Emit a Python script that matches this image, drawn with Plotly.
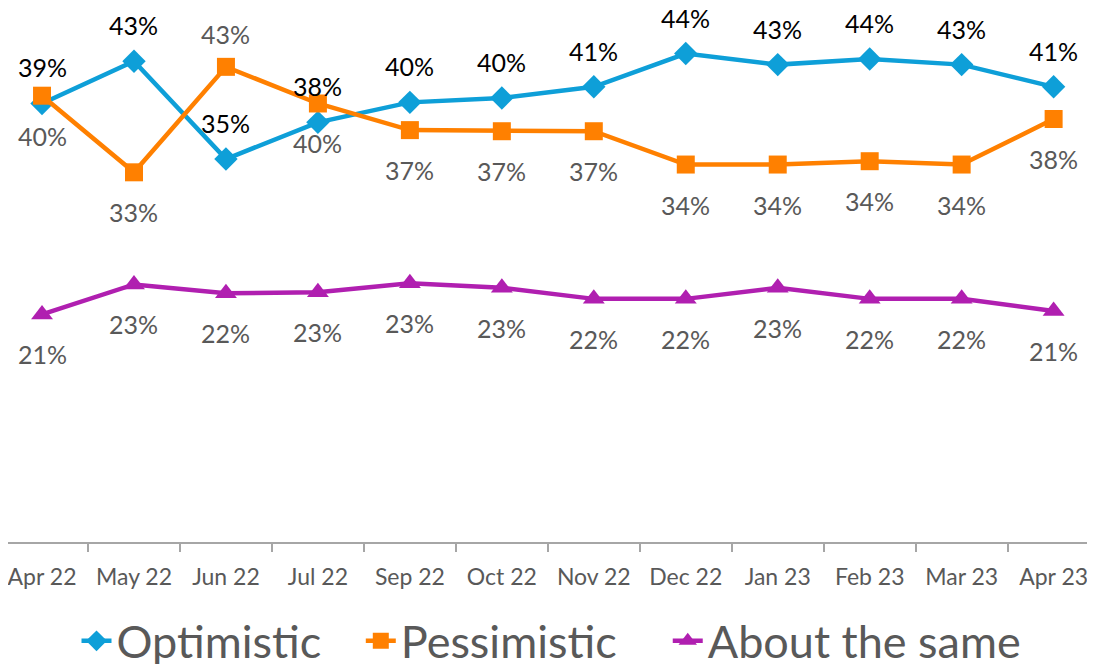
import plotly.graph_objects as go

months = ["Apr 22", "May 22", "Jun 22", "Jul 22", "Sep 22", "Oct 22", "Nov 22",
          "Dec 22", "Jan 23", "Feb 23", "Mar 23", "Apr 23"]
optimistic = [39.5, 43.3, 34.5, 37.8, 39.6, 40.0, 41.0, 44.0, 43.0, 43.5, 43.0, 41.0]
optimistic_labels = ["39%", "43%", "35%", "38%", "40%", "40%", "41%", "44%", "43%", "44%", "43%", "41%"]
pessimistic = [40.2, 33.3, 42.8, 39.5, 37.1, 37.0, 37.0, 34.0, 34.0, 34.3, 34.0, 38.1]
pessimistic_labels = ["40%", "33%", "43%", "40%", "37%", "37%", "37%", "34%", "34%", "34%", "34%", "38%"]
pessimistic_above = [False, False, True, False, False, False, False, False, False, False, False, False]
same = [20.5, 23.2, 22.4, 22.5, 23.3, 22.9, 21.9, 21.9, 22.9, 21.9, 21.9, 20.8]
same_labels = ["21%", "23%", "22%", "23%", "23%", "23%", "22%", "22%", "23%", "22%", "22%", "21%"]
series_names = ["Optimistic", "Pessimistic", "About the same"]

BLUE = "#0E9FD8"
ORANGE = "#FF8000"
PURPLE = "#B01FB0"
GREY = "#595959"
FONT = "Lato"
PAD1 = "\u00a0\u00a0\u00a0"
PAD2 = "\u00a0\u00a0\u00a0\u00a0"

fig = go.Figure()
fig.add_trace(go.Scatter(x=months, y=optimistic, name=series_names[0] + PAD1, mode="lines+markers",
                         line=dict(color=BLUE, width=4.5),
                         marker=dict(symbol="diamond", size=18, color=BLUE)))
fig.add_trace(go.Scatter(x=months, y=pessimistic, name=series_names[1] + PAD2, mode="lines+markers",
                         line=dict(color=ORANGE, width=4.5),
                         marker=dict(symbol="square", size=18, color=ORANGE)))
fig.add_trace(go.Scatter(x=months, y=same, name=series_names[2], mode="lines+markers",
                         line=dict(color=PURPLE, width=4.5),
                         marker=dict(symbol="triangle-up", size=19, color=PURPLE)))

annotations = []
for m, v, t in zip(months, optimistic, optimistic_labels):
    annotations.append(dict(x=m, y=v, text=t, showarrow=False, yshift=36,
                            font=dict(family=FONT, size=25, color="#000000")))
for m, v, t, up in zip(months, pessimistic, pessimistic_labels, pessimistic_above):
    annotations.append(dict(x=m, y=v, text=t, showarrow=False, yshift=33 if up else -40,
                            font=dict(family=FONT, size=25, color=GREY)))
for m, v, t in zip(months, same, same_labels):
    annotations.append(dict(x=m, y=v, text=t, showarrow=False, yshift=-40,
                            font=dict(family=FONT, size=25, color=GREY)))

fig.update_layout(
    width=1087, height=656,
    margin=dict(l=0, r=0, t=0, b=122),
    paper_bgcolor="white", plot_bgcolor="white",
    font=dict(family=FONT, color=GREY),
    showlegend=True,
    legend=dict(orientation="h", x=0.5, xanchor="center", y=0.035, yanchor="middle",
                yref="container", font=dict(family=FONT, size=45, color=GREY),
                itemwidth=30, tracegroupgap=0),
    annotations=annotations,
    xaxis=dict(type="category", range=[-0.37, 11.45], showgrid=False,
               showline=True, linecolor="#A6A6A6", linewidth=1.5,
               ticks="outside", tickson="boundaries", ticklen=8, tickcolor="#A6A6A6",
               tickwidth=1.5, ticklabelstandoff=14,
               tickfont=dict(family=FONT, size=23, color=GREY)),
    yaxis=dict(range=[0, 48.1], visible=False, showgrid=False, zeroline=False),
)

fig.write_html("out.html")
